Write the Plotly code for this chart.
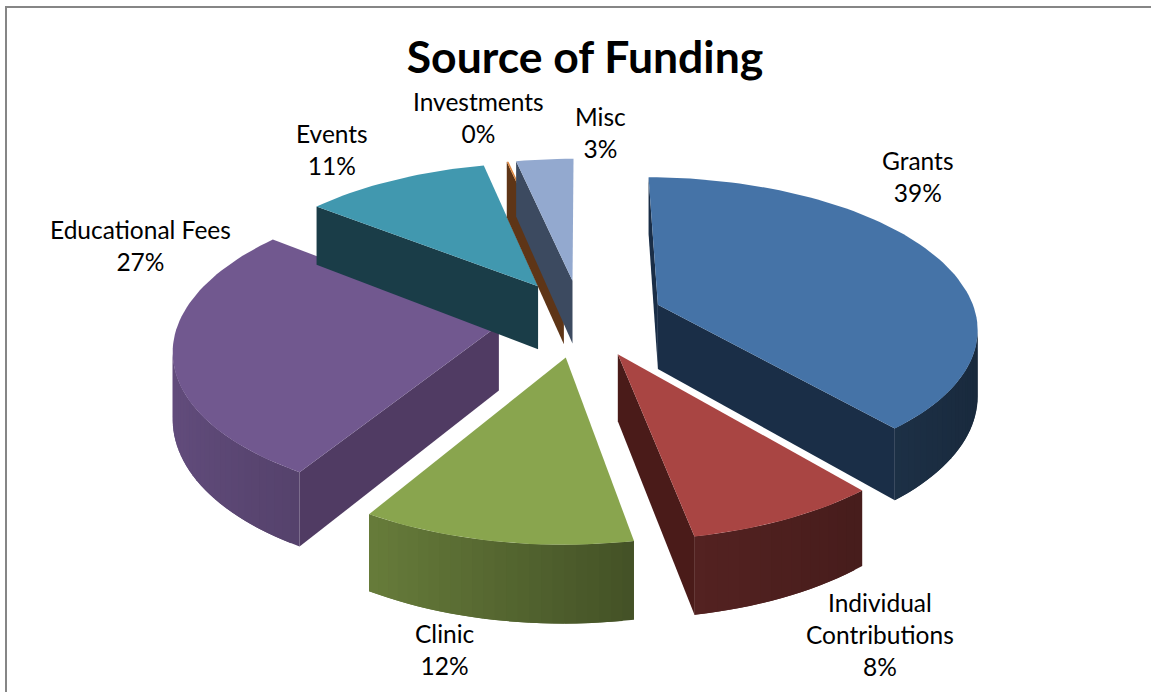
import numpy as np
import plotly.graph_objects as go

# ---- data ----
categories = ["Grants", "Individual<br>Contributions", "Clinic", "Educational Fees", "Events", "Investments", "Misc"]
values = [39, 8.3, 11.6, 27.1, 11, 0.1, 3.4]

# ---- styling ----
top_colors = ["#4573A7", "#A94543", "#89A54E", "#71588F", "#4198AF", "#DB843D", "#93A9CF"]
wall_colors = ["#1A2E47", "#4A1B19", "#3F4F20", "#503B63", "#1A3D48", "#5E3517", "#3C4A60"]
label_xy = [(918, 176), (880, 634), (445, 649), (140, 245), (332, 149), (478, 117), (600, 132)]

W, H = 1151, 692
CX, HORIZON, Y0 = 581, -745, 318       # projection: centre, vanishing row, centre row
A, P, DEPTH, EXPLODE = 319, 0.14, 65, 0.26


def project(X, Y, down=0.0):
    k = 1.0 / (1.0 + P * Y)
    return CX + A * X * k, HORIZON + (Y0 - HORIZON + down) * k


def hex_rgb(c):
    return np.array([int(c[i:i + 2], 16) for i in (1, 3, 5)], float)


def shade(c, theta):
    f = np.interp(np.sin(theta), [-1, -0.5, 0.17, 1], [0.88, 0.75, 0.50, 0.36])
    r, g, b = (hex_rgb(c) * f).astype(int)
    return f"rgb({r},{g},{b})"


def poly(fig, pts, color):
    xs, ys = zip(*pts)
    fig.add_trace(go.Scatter(x=list(xs) + [xs[0]], y=list(ys) + [ys[0]], mode="lines", fill="toself",
                             fillcolor=color, line=dict(color=color, width=0),
                             hoverinfo="skip", showlegend=False))


def visible(q):
    x = np.array([p[0] for p in q]); y = np.array([p[1] for p in q])
    return np.sum(x * np.roll(y, -1) - np.roll(x, -1) * y) < 0


def wall(fig, a, b, color):
    q = [project(*a), project(*b), project(*b, DEPTH), project(*a, DEPTH)]
    if visible(q):
        poly(fig, q, color)


fig = go.Figure()
total = sum(values)
cum = np.cumsum([0] + values) / total * 2 * np.pi

for i in range(len(values)):
    t0, t1 = cum[i], cum[i + 1]
    mid = (t0 + t1) / 2
    ox, oy = EXPLODE * np.sin(mid), EXPLODE * np.cos(mid)
    n = max(2, int((t1 - t0) / 0.03))
    ts = np.linspace(t0, t1, n + 1)
    rim = [(ox + np.sin(t), oy + np.cos(t)) for t in ts]
    apex = (ox, oy)
    # cut faces
    wall(fig, apex, rim[0], wall_colors[i])
    wall(fig, rim[-1], apex, wall_colors[i])
    # rounded outer face, shaded strip by strip; each strip runs under the next to hide seams
    for j in range(n):
        wall(fig, rim[j], rim[min(j + 2, n)], shade(top_colors[i], (ts[j] + ts[j + 1]) / 2))
    # top face
    poly(fig, [project(*apex)] + [project(*p) for p in rim], top_colors[i])

for cat, v, (lx, ly) in zip(categories, values, label_xy):
    fig.add_annotation(x=lx, y=ly, text=f"{cat}<br>{round(v / total * 100)}%", showarrow=False,
                       font=dict(family="Lato", size=24.5, color="#000000"), align="center")

border = dict(color="#868686", width=2)
fig.add_shape(type="line", x0=6, x1=6, y0=6, y1=H, line=border)
fig.add_shape(type="line", x0=6, x1=W, y0=7, y1=7, line=border)

fig.update_layout(
    width=W, height=H, margin=dict(l=0, r=0, t=0, b=0),
    paper_bgcolor="white", plot_bgcolor="white", showlegend=False,
    title=dict(text="<b>Source of Funding</b>", x=585 / W, xanchor="center", y=1 - 57 / H, yanchor="middle",
               font=dict(family="Lato", size=44.5, color="#000000")),
    xaxis=dict(range=[0, W], visible=False, fixedrange=True),
    yaxis=dict(range=[H, 0], visible=False, fixedrange=True),
)
fig.write_html("out.html", config={"displayModeBar": False}, post_script="document.body.style.margin='0';")
